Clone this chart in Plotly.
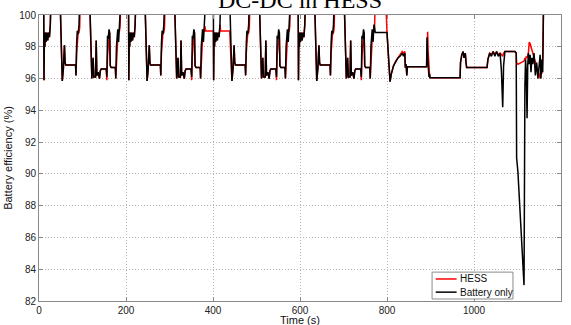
import plotly.graph_objects as go

# NEDC drive: four ECE-15 urban cycles (195 s each) followed by the EUDC segment.
ECE_START_S = [0, 195, 390, 585]

# One ECE-15 cycle: time inside the cycle (s) and battery efficiency (%).
# Values above 100 mark idle periods (zero current), which run off the top of the axis.
ECE_TAU_S = [0, 10.8, 11.5, 12.5, 13.5, 14.5, 16, 18, 20, 22, 24, 26, 27.5,
             48.5, 51, 53.5, 56, 58.5, 60, 61.5, 84, 85, 86.5, 88, 90, 92, 93.5, 95,
             116.5, 121.5, 123, 124.5, 126, 130, 131.5, 133, 136, 139, 141, 143,
             154.5, 156, 157.5, 159, 161, 162.5, 163.8, 166, 175.5, 176.5, 178,
             179.5, 181, 183, 185, 186.5, 188]
ECE_BATTERY = [101, 101, 95.9, 98.9, 98.0, 98.9, 98.3, 98.9, 98.4, 98.9, 98.6, 99.4, 101,
               101, 97.6, 95.85, 96.6, 98.1, 97.0, 96.85, 96.85, 96.2, 98.2, 99.0, 98.8, 99.4, 101, 101,
               101, 96.0, 96.6, 97.3, 96.1, 96.1, 98.4, 96.2, 96.4, 96.0, 96.5, 96.6,
               96.6, 96.1, 98.7, 98.5, 99.1, 98.9, 96.8, 96.7, 96.7, 96.0, 98.0,
               98.9, 99.1, 98.3, 99.4, 101, 101]
ECE_HESS = [101, 101, 95.9, 98.9, 98.0, 98.9, 98.3, 98.9, 98.4, 98.9, 98.6, 99.4, 101,
            101, 97.6, 95.85, 96.6, 98.1, 97.0, 96.85, 96.85, 96.2, 97.6, 98.3, 98.9, 98.9, 99.2, 101,
            101, 96.0, 96.6, 97.3, 96.1, 96.1, 98.4, 96.2, 96.4, 96.0, 96.5, 96.6,
            96.6, 95.9, 97.4, 98.2, 98.6, 98.9, 96.8, 96.7, 96.7, 96.0, 97.3,
            97.9, 98.5, 98.9, 99.0, 99.3, 101]

# Idle periods where the efficiency is held at a constant level.
HESS_HOLD_T = [383, 390, 400.8, 417.5, 438.5]
HESS_HOLD_V = [99.0, 99.0, 99.0, 99.0, 99.0]
BATTERY_HOLD_T = [771.5, 773]
BATTERY_HOLD_V = [99.2, 98.9]

# EUDC segment (s, %).
EUDC_T = [780, 797, 800, 807, 810, 815, 820, 825, 830, 835, 838, 841, 842, 844, 845.5, 847,
          891, 892, 893.5, 894.5, 896.5, 898, 899, 968, 969, 972, 975, 977, 980, 981.5, 983,
          1030, 1032, 1036, 1040, 1044, 1048, 1052, 1056, 1060, 1063, 1066, 1068, 1071,
          1094, 1097, 1098, 1101, 1115, 1117, 1118.5, 1120, 1122, 1123.5, 1125, 1127, 1129,
          1131, 1133, 1135, 1138, 1141, 1144, 1147, 1150, 1152, 1154, 1156, 1158, 1160, 1180]
EUDC_BATTERY = [98.9, 98.9, 98.9, 95.8, 96.3, 96.8, 97.1, 97.3, 97.4, 97.6, 97.4, 97.6, 96.7, 96.9, 96.2, 96.75,
                96.75, 98.6, 97.3, 96.8, 96.1, 96.3, 96.05, 96.05, 97.0, 97.5, 97.7, 97.3, 97.6, 97.0, 96.7,
                96.7, 97.2, 97.6, 97.4, 97.7, 97.4, 97.7, 97.4, 97.6, 96.5, 94.2, 96.8, 97.7,
                97.7, 97.6, 91.0, 90.1, 83.0, 95.5, 97.2, 96.5, 93.5, 96.8, 97.6, 96.9, 97.5,
                96.4, 97.3, 96.9, 97.6, 96.2, 97.0, 96.0, 96.8, 97.5, 96.0, 97.2, 96.4, 101, 101]
EUDC_HESS = [101, 101, 98.9, 95.8, 96.3, 96.8, 97.1, 97.3, 97.5, 97.7, 97.6, 97.7, 96.7, 96.9, 96.2, 96.75,
             96.75, 97.6, 98.95, 97.8, 96.4, 96.1, 96.05, 96.05, 97.0, 97.5, 97.7, 97.3, 97.6, 97.0, 96.7,
             96.7, 97.2, 97.6, 97.5, 97.7, 97.5, 97.7, 97.5, 97.6, 97.5, 97.4, 97.6, 97.7,
             97.7, 97.6, 97.0, 96.9, 97.1, 97.3, 97.2, 97.4, 97.3, 97.5, 97.6, 98.3, 98.2,
             98.0, 97.8, 97.6, 97.3, 97.0, 96.8, 96.5, 96.2, 96.0, 97.0, 96.3, 97.4, 101, 101]

X_TICKS = [0, 200, 400, 600, 800, 1000, 1200]
Y_TICKS = [82, 84, 86, 88, 90, 92, 94, 96, 98, 100]

SERIES_NAMES = ["HESS", "Battery only"]
SERIES_COLORS = ["#ff0000", "#000000"]

SANS = "Liberation Sans, Arial, sans-serif"


def assemble(cycle_values, hold_t, hold_v, eudc_values):
    t, v = [], []
    for start in ECE_START_S:
        for tau, val in zip(ECE_TAU_S, cycle_values):
            t.append(round(start + tau, 1))
            v.append(val)
    held = dict(zip(hold_t, hold_v))
    v = [held.get(tt, vv) for tt, vv in zip(t, v)]
    return t + EUDC_T, v + eudc_values


t_hess, eff_hess = assemble(ECE_HESS, HESS_HOLD_T, HESS_HOLD_V, EUDC_HESS)
t_batt, eff_batt = assemble(ECE_BATTERY, BATTERY_HOLD_T, BATTERY_HOLD_V, EUDC_BATTERY)

fig = go.Figure()
for name, color, xs, ys in zip(SERIES_NAMES, SERIES_COLORS, [t_hess, t_batt], [eff_hess, eff_batt]):
    fig.add_trace(go.Scatter(x=xs, y=ys, mode="lines", name=name,
                             line=dict(color=color, width=1.5), showlegend=False))

axis_common = dict(
    showline=True, linecolor="#8a8a8a", linewidth=1, mirror="ticks",
    ticks="inside", ticklen=4, tickcolor="#8a8a8a",
    showgrid=True, gridcolor="#b5b5b5", griddash="1px,2px", gridwidth=1,
    zeroline=False, automargin=False,
    tickfont=dict(family=SANS, size=10, color="#222222"),
)

fig.update_xaxes(range=[0, 1200], tickvals=X_TICKS, ticktext=[str(v) for v in X_TICKS],
                 **axis_common)
fig.update_yaxes(range=[82, 100], tickvals=Y_TICKS, ticktext=[str(v) for v in Y_TICKS],
                 title=dict(text="Battery efficiency (%)", standoff=4,
                            font=dict(family=SANS, size=11, color="#111111")),
                 **axis_common)

# Boxed legend in the lower-right corner of the axes
shapes = [dict(type="rect", xref="paper", yref="paper", x0=0.753, x1=0.908, y0=0.007, y1=0.101,
               line=dict(color="#8a8a8a", width=1), fillcolor="white", layer="above")]
annotations = []
for name, color, ly in zip(SERIES_NAMES, SERIES_COLORS, [0.077, 0.031]):
    shapes.append(dict(type="line", xref="paper", yref="paper", x0=0.760, x1=0.800, y0=ly, y1=ly,
                       line=dict(color=color, width=1.5), layer="above"))
    annotations.append(dict(text=name, xref="paper", yref="paper", x=0.802, y=ly,
                            xanchor="left", yanchor="middle", showarrow=False,
                            font=dict(family=SANS, size=10, color="#111111")))

# x-axis label, just under the tick labels
annotations.append(dict(text="Time (s)", xref="paper", yref="paper", x=0.5, y=-0.0665,
                        xanchor="center", yanchor="middle", showarrow=False,
                        font=dict(family=SANS, size=11, color="#111111")))

annotations.append(dict(text="DC-DC in HESS", xref="paper", yref="paper", x=0.5, y=1.0,
                        xanchor="center", yanchor="bottom", showarrow=False,
                        font=dict(family="Liberation Serif, Times New Roman, serif", size=24,
                                  color="#000000")))

fig.update_layout(
    width=571, height=325,
    margin=dict(l=39, r=10, t=15, b=24),
    paper_bgcolor="white", plot_bgcolor="white",
    showlegend=False,
    shapes=shapes,
    annotations=annotations,
)

fig.write_html("out.html")
